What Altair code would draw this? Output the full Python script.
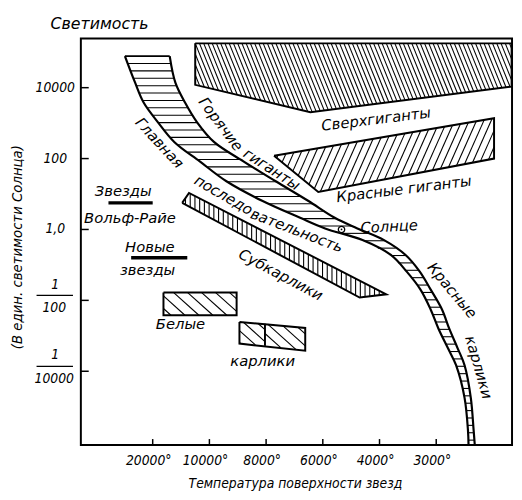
import altair as alt
import numpy as np
import pandas as pd

# ---------------- data (temperature axis in tick-index units, luminosity as log10 L/Lsun)
temp_pos = [1, 2, 3, 4, 5, 6]
temp_labels = ["20000°", "10000°", "8000°", "6000°", "4000°", "3000°"]
lum_ticks = [4, 2, 0, -2, -4]
lum_simple = ["10000", "100", "1,0"]
lum_frac_num = ["1", "1"]
lum_frac_den = ["100", "10000"]

X_DOM = [-0.267, 7.337]
Y_DOM = [-6.08, 5.39]
W, H = 438, 413

# main sequence / hot giants / red dwarfs band
ms_logL = [4.89, 4.14, 3.58, 3.03, 2.47, 1.92, 1.36, 0.81, 0.33, 0.03, -0.30, -0.72,
           -1.19, -1.69, -2.25, -2.80, -3.36, -3.83, -4.75, -5.67, -6.08]
ms_left = [0.51, 0.69, 0.84, 1.09, 1.38, 1.83, 2.30, 2.93, 3.60, 4.04, 4.70, 5.20,
           5.48, 5.72, 5.90, 6.04, 6.21, 6.35, 6.50, 6.56, 6.57]
ms_right = [1.30, 1.40, 1.57, 1.78, 2.08, 2.60, 3.17, 3.74, 4.21, 4.61, 5.08, 5.46,
            5.71, 5.90, 6.10, 6.23, 6.38, 6.50, 6.61, 6.66, 6.68]

super_T = [1.75, 7.33, 7.33, 3.78, 1.75]
super_L = [5.25, 5.25, 4.03, 3.31, 4.08]
redg_T = [3.14, 7.02, 7.02, 3.92]
redg_L = [2.08, 3.14, 2.00, 1.06]
subd_T = [1.52, 1.64, 5.12, 4.65]
subd_L = [0.75, 1.03, -1.83, -1.92]
wd_T = [1.19, 2.48, 2.48, 1.19]
wd_L = [-1.78, -1.78, -2.42, -2.42]
dw_T = [2.53, 3.69, 3.69, 2.53]
dw_L = [-2.61, -2.78, -3.42, -3.22]
dw_div_T = [2.98, 2.98]
dw_div_L = [-2.66, -3.28]
sun_T, sun_L = [4.33], [0.0]
wr_T, wr_L = [0.22, 1.00], [0.75]
nova_T, nova_L = [0.62, 1.61], [-0.80]

region_text = ["Сверхгиганты", "Красные  гиганты", "Солнце", "Субкарлики", "Главная",
               "последо", "вательность", "Горячие", "гиганты", "Красные", "карлики",
               "Звезды", "Вольф-Райе", "Новые", "звезды", "Белые", "карлики"]
region_T = [4.94, 5.43, 5.17, 3.26, 1.12, 2.25, 3.54, 2.20, 3.10, 6.28, 6.75,
            0.48, 0.60, 0.95, 0.91, 1.49, 2.94]
region_L = [3.11, 1.14, 0.08, -1.28, 2.44, 0.97, -0.03, 2.97, 1.70, -1.72, -3.89,
            1.08, 0.33, -0.50, -1.14, -2.67, -3.72]
region_angle = [353, 353, 357, 28, 47, 30, 21, 53, 33, 50, 74, 0, 0, 0, 0, 0, 0]

FONT = "DejaVu Sans"
FONT_N = "DejaVu Sans Condensed, DejaVu Sans"

# ---------------- helpers
XR = X_DOM[1] - X_DOM[0]
YR = Y_DOM[1] - Y_DOM[0]
def tx(t): return (t - X_DOM[0]) / XR * W
def ty(l): return (Y_DOM[1] - l) / YR * H
def ix(p): return X_DOM[0] + p / W * XR
def iy(p): return Y_DOM[1] - p / H * YR

def hatch(T, L, angle, spacing, phase=0.5):
    P = np.array([[tx(t), ty(l)] for t, l in zip(T, L)])
    a = np.radians(angle)
    d = np.array([np.cos(a), np.sin(a)])
    n = np.array([-np.sin(a), np.cos(a)])
    c = P @ n
    segs = []
    for cv in np.arange(c.min() + spacing * phase, c.max(), spacing):
        pts = []
        m = len(P)
        for i in range(m):
            j = (i + 1) % m
            if c[i] == c[j]:
                continue
            if (cv - c[i]) * (cv - c[j]) <= 0:
                tt = (cv - c[i]) / (c[j] - c[i])
                pts.append(P[i] + tt * (P[j] - P[i]))
        if len(pts) >= 2:
            pts = np.array(pts)
            s = pts @ d
            p0, p1 = pts[s.argmin()], pts[s.argmax()]
            segs.append((ix(p0[0]), iy(p0[1]), ix(p1[0]), iy(p1[1])))
    return pd.DataFrame(segs, columns=["T", "L", "T2", "L2"])

xs = alt.Scale(domain=X_DOM, nice=False, zero=False)
ys = alt.Scale(domain=Y_DOM, nice=False, zero=False)
X = lambda f="T": alt.X(f + ":Q", scale=xs, axis=None)
Y = lambda f="L": alt.Y(f + ":Q", scale=ys, axis=None)

# ---------------- polygon outlines
rows = []
def add_poly(rows, name, T, L, close=True):
    TT = list(T) + ([T[0]] if close else [])
    LL = list(L) + ([L[0]] if close else [])
    for k, (t, l) in enumerate(zip(TT, LL)):
        rows.append({"shape": name, "o": k, "T": t, "L": l})

add_poly(rows, "super", super_T, super_L)
add_poly(rows, "redg", redg_T, redg_L)
add_poly(rows, "subd", subd_T, subd_L)
add_poly(rows, "wd", wd_T, wd_L)
add_poly(rows, "dw", dw_T, dw_L)
add_poly(rows, "dwdiv", dw_div_T, dw_div_L, close=False)
add_poly(rows, "bandtop", [ms_left[0], ms_right[0]], [ms_logL[0], ms_logL[0]], close=False)
outline_df = pd.DataFrame(rows)

outlines = alt.Chart(outline_df).mark_line(color="black", strokeWidth=2, strokeJoin="miter").encode(
    x=X(), y=Y(), order="o:Q", detail="shape:N")

brows = []
add_poly(brows, "band_l", ms_left, ms_logL, close=False)
add_poly(brows, "band_r", ms_right, ms_logL, close=False)
band_lines = alt.Chart(pd.DataFrame(brows)).mark_line(
    color="black", strokeWidth=2.2, interpolate="catmull-rom").encode(
    x=X(), y=Y(), order="o:Q", detail="shape:N")

# ---------------- hatching
hatches = pd.concat([
    hatch(super_T, super_L, 68, 4.0),
    hatch(redg_T, redg_L, -66, 6.8),
    hatch(subd_T, subd_L, 90, 4.8),
    hatch(wd_T, wd_L, 42, 9.5),
    hatch(dw_T[:1] + [dw_div_T[0], dw_div_T[1]] + dw_T[3:], [dw_L[0], dw_div_L[0], dw_div_L[1], dw_L[3]], 42, 9.0),
    hatch([dw_div_T[0]] + dw_T[1:3] + [dw_div_T[1]], [dw_div_L[0]] + dw_L[1:3] + [dw_div_L[1]], 42, 9.0),
])
band_y = np.arange(ms_logL[0] - 7.5 / 36, ms_logL[-1], -7.5 / 36)
band_h = pd.DataFrame({
    "L": band_y, "L2": band_y,
    "T": np.interp(band_y, ms_logL[::-1], ms_left[::-1]),
    "T2": np.interp(band_y, ms_logL[::-1], ms_right[::-1]),
})
hatches = pd.concat([hatches, band_h])
hatch_layer = alt.Chart(hatches).mark_rule(color="black", strokeWidth=1.1).encode(
    x=X(), y=Y(), x2="T2:Q", y2="L2:Q")

# ---------------- sun, bars
sun_df = pd.DataFrame({"T": sun_T, "L": sun_L})
sun_ring = alt.Chart(sun_df).mark_point(shape="circle", size=42, filled=True, fill="white",
                                        stroke="black", strokeWidth=1.3, opacity=1).encode(x=X(), y=Y())
sun_dot = alt.Chart(sun_df).mark_point(shape="circle", size=3, filled=True, color="black", opacity=1).encode(x=X(), y=Y())

bars_df = pd.DataFrame({"T": [wr_T[0], nova_T[0]], "T2": [wr_T[1], nova_T[1]], "L": wr_L + nova_L})
bars = alt.Chart(bars_df).mark_rule(color="black", strokeWidth=3.5).encode(x=X(), x2="T2:Q", y=Y())

# ---------------- region labels
lab_df = pd.DataFrame({"text": region_text, "T": region_T, "L": region_L, "angle": region_angle})
labels = alt.Chart(lab_df).mark_text(font=FONT, fontStyle="italic", fontSize=15, color="black",
                                     align="center", baseline="middle").encode(
    x=X(), y=Y(), text="text:N", angle=alt.Angle("angle:Q", scale=None))

# ---------------- axes (ticks inside, labels as text)
xt_df = pd.DataFrame({"T": temp_pos, "lab": temp_labels})
x_ticks = alt.Chart(xt_df).mark_rule(color="black", strokeWidth=1.5).encode(
    x=X(), y=alt.value(H), y2=alt.value(H - 6))
x_labels = alt.Chart(xt_df).mark_text(font=FONT_N, fontStyle="italic", fontSize=14, dx=-4,
                                      baseline="middle").encode(
    x=X(), y=alt.value(H + 16), text="lab:N")

yt_df = pd.DataFrame({"L": lum_ticks})
y_ticks = alt.Chart(yt_df).mark_rule(color="black", strokeWidth=1.5).encode(
    y=Y(), x=alt.value(0), x2=alt.value(8))
ys_df = pd.DataFrame({"L": lum_ticks[:3], "lab": lum_simple})
y_simple = alt.Chart(ys_df).mark_text(font=FONT_N, fontStyle="italic", fontSize=14,
                                      baseline="middle").encode(
    y=Y(), x=alt.value(-26), text="lab:N")
yf_df = pd.DataFrame({"L": lum_ticks[3:], "num": lum_frac_num, "den": lum_frac_den})
y_num = alt.Chart(yf_df).mark_text(font=FONT_N, fontStyle="italic", fontSize=14, dy=-16,
                                   baseline="middle").encode(y=Y(), x=alt.value(-26), text="num:N")
y_den = alt.Chart(yf_df).mark_text(font=FONT_N, fontStyle="italic", fontSize=14, dy=8,
                                   baseline="middle").encode(y=Y(), x=alt.value(-27), text="den:N")
y_bar = alt.Chart(yf_df).mark_rule(color="black", strokeWidth=1.2, yOffset=-5).encode(
    y=Y(), x=alt.value(-45), x2=alt.value(-8))

# ---------------- titles
t_top = alt.Chart(pd.DataFrame({"t": ["Светимость"]})).mark_text(
    font=FONT, fontStyle="italic", fontSize=16).encode(
    x=alt.value(19), y=alt.value(-15), text="t:N")
t_y = alt.Chart(pd.DataFrame({"t": ["(В един. светимости Солнца)"]})).mark_text(
    font=FONT_N, fontStyle="italic", fontSize=15, angle=270, baseline="middle", align="center").encode(
    x=alt.value(-65), y=alt.value(212), text="t:N")
t_x = alt.Chart(pd.DataFrame({"t": ["Температура поверхности звезд"]})).mark_text(
    font=FONT_N, fontStyle="italic", fontSize=14).encode(
    x=alt.value(218), y=alt.value(453), text="t:N")

chart = alt.layer(
    hatch_layer, outlines, band_lines, sun_ring, sun_dot, bars, labels,
    x_ticks, x_labels, y_ticks, y_simple, y_num, y_den, y_bar,
    t_top, t_y, t_x,
).properties(
    width=W, height=H,
    autosize=alt.AutoSizeParams(type="none"),
    padding={"left": 74, "top": 27, "right": 2, "bottom": 52},
    background="white",
).configure_view(stroke="black", strokeWidth=2)

chart.save("out.html", embed_options={"renderer": "svg", "actions": False})
